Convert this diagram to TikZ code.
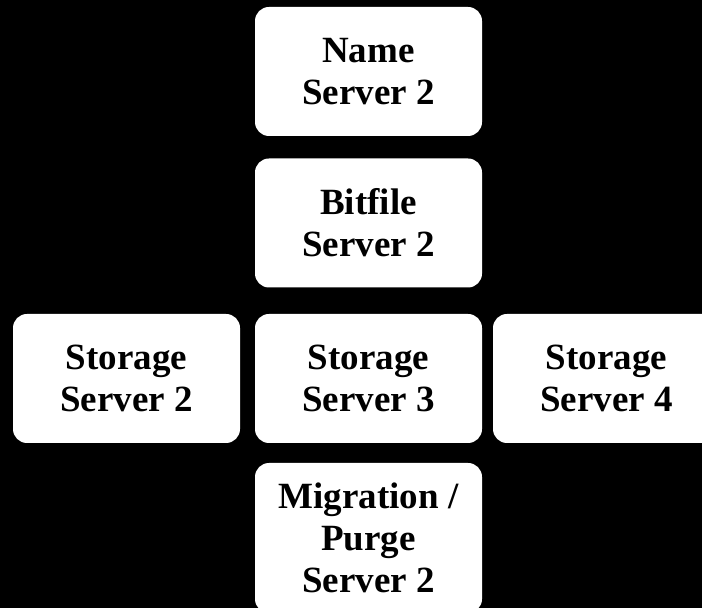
\documentclass[tikz,border=0pt]{standalone}
\usepackage{fontspec}
\setmainfont{Liberation Serif}
\begin{document}
\begin{tikzpicture}[x=1pt,y=1pt,
  srv/.style={fill=white,rounded corners=14pt,minimum width=227pt,minimum height=129pt,inner sep=0pt,align=center,font=\fontsize{37}{42}\selectfont\bfseries}]
\fill[black] (0,0) rectangle (702,608);
\useasboundingbox (0,0) rectangle (702,608);
\node[srv] (name) at (368.5,536.5) {Name\\Server 2};
\node[srv] (bitfile) at (368.5,385) {Bitfile\\Server 2};
\node[srv] (stor2) at (126.5,229.5) {Storage\\Server 2};
\node[srv] (stor3) at (368.5,229.5) {Storage\\Server 3};
\node[srv] (stor4) at (606.5,229.5) {Storage\\Server 4};
\node[srv,minimum height=150pt] (migr) at (368.5,70) {Migration /\\Purge\\Server 2};
\end{tikzpicture}
\end{document}
